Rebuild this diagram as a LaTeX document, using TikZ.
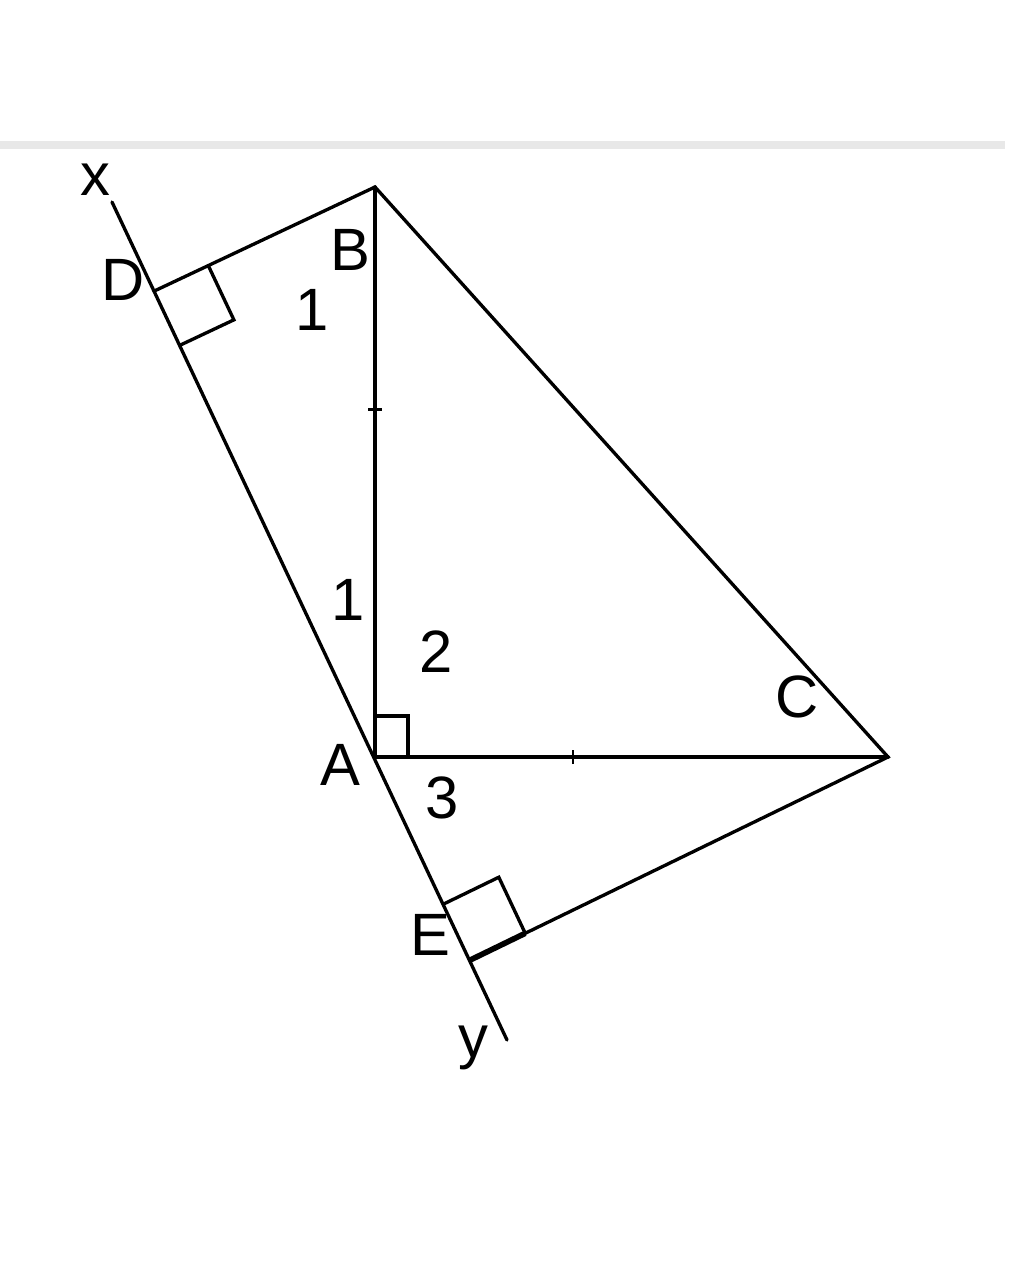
\documentclass[tikz,border=0pt]{standalone}
\usepackage{fontspec}
\setmainfont{Liberation Sans}
\usepackage{tikz}
\usetikzlibrary{positioning,calc}
\definecolor{rule1}{HTML}{E8E8E8}

\begin{document}
\begin{tikzpicture}[
    seg/.style={line width=0.95pt, line cap=round},
    lbl/.style={font=\fontsize{17}{20}\selectfont, inner sep=0pt},
    tick/.style={line width=0.8pt},
]
\useasboundingbox (0,0) rectangle (10.24,-12.61);
\draw[line width=2.5pt, rule1] (0,-1.45) -- (10.05,-1.45);

% points
\coordinate (A) at (3.75,-7.57);
\coordinate (B) at (3.75,-1.87);
\coordinate (C) at (8.88,-7.57);
\coordinate (X) at (1.12,-2.02);
\coordinate (Y) at (5.07,-10.40);
\coordinate (D) at ($(X)!(B)!(Y)$);
\coordinate (E) at ($(X)!0.905!(Y)$);

% lines
\draw[seg] (X) -- (Y);
\draw[seg] (D) -- (B) -- (C) -- (E);
\draw[seg] (B) -- (A) -- (C);

% right angles
\draw[seg] ($(A)+(0,0.41)$) -| ($(A)+(0.33,0)$);
\draw[seg] ($(D)!0.6cm!(B)$) -- ($(D)!0.6cm!(B)+(D)!0.6cm!(Y)-(D)$) -- ($(D)!0.6cm!(Y)$);
\draw[seg] ($(E)!0.62cm!(C)$) -- ($(E)!0.62cm!(C)+(E)!0.62cm!(X)-(E)$) -- ($(E)!0.62cm!(X)$);
\draw[line width=1.6pt] (E) -- ($(E)!0.62cm!(C)$);

% equal marks
\draw[tick] ($(A)!0.609!(B)+(-0.07,0)$) -- ++(0.14,0);
\draw[tick] ($(A)!0.386!(C)+(0,-0.07)$) -- ++(0,0.14);

% labels
\node[lbl] (lx) at (0.95,-1.80) {x};
\node[lbl] (ly) at (4.73,-10.48) {y};
\node[lbl] (lD) at (1.23,-2.80) {D};
\node[lbl] (lB) at (3.50,-2.50) {B};
\node[lbl] (lA) at (3.40,-7.65) {A};
\node[lbl] (lC) at (7.97,-6.97) {C};
\node[lbl] (lE) at (4.30,-9.35) {E};
\node[lbl] (a1) at (3.12,-3.10) {1};
\node[lbl] (b1) at (3.48,-6.00) {1};
\node[lbl] (a2) at (4.36,-6.52) {2};
\node[lbl] (a3) at (4.42,-7.98) {3};
\end{tikzpicture}
\end{document}
